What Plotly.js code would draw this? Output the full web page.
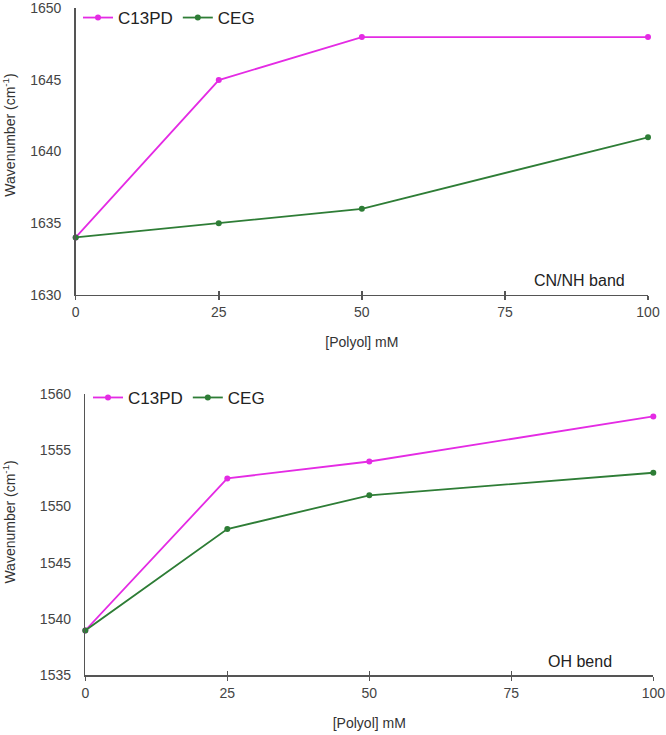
<!DOCTYPE html>
<html>
<head>
<meta charset="utf-8">
<script src="https://cdn.plot.ly/plotly-3.0.1.min.js"></script>
<style>html,body{margin:0;padding:0;background:#fff;}#chart{width:666px;height:735px;}</style>
</head>
<body>
<div id="chart"></div>
<script>
// Data
const polyol = [0, 25, 50, 100];
const seriesNames = ["C13PD", "CEG"];
const cnnhC13PD = [1634, 1645, 1648, 1648];
const cnnhCEG = [1634, 1635, 1636, 1641];
const ohC13PD = [1539, 1552.5, 1554, 1558];
const ohCEG = [1539, 1548, 1551, 1553];
const xTicks = [0, 25, 50, 75, 100];
const yTicksTop = [1630, 1635, 1640, 1645, 1650];
const yTicksBottom = [1535, 1540, 1545, 1550, 1555, 1560];
const panelLabels = ["CN/NH band", "OH bend"];
const xTitle = "[Polyol] mM";
const yTitle = "Wavenumber (cm<sup>-1</sup>)";

const MAG = "#e42be4";
const GRN = "#2e7d36";
const FONT = "Liberation Sans, Arial, sans-serif";

function tr(x, y, name, color, xa, ya, leg) {
  return {
    x: x, y: y, name: name, type: "scatter", mode: "lines+markers",
    line: {color: color, width: 1.8},
    marker: {color: color, size: 6},
    xaxis: xa, yaxis: ya, legend: leg, cliponaxis: false
  };
}

const data = [
  tr(polyol, cnnhC13PD, seriesNames[0], MAG, "x", "y", "legend"),
  tr(polyol, cnnhCEG, seriesNames[1], GRN, "x", "y", "legend"),
  tr(polyol, ohC13PD, seriesNames[0], MAG, "x2", "y2", "legend2"),
  tr(polyol, ohCEG, seriesNames[1], GRN, "x2", "y2", "legend2"),
  // invisible helpers so that overlay axes (inner tick halves) are drawn
  {x: [], y: [], xaxis: "x3", yaxis: "y", showlegend: false, type: "scatter"},
  {x: [], y: [], xaxis: "x4", yaxis: "y2", showlegend: false, type: "scatter"}
];

const axisCommon = {
  showgrid: false, zeroline: false, showline: true,
  linecolor: "#555", linewidth: 1.5,
  tickfont: {family: FONT, size: 14, color: "#444"},
  ticklabeloverflow: "allow"
};

function xax(domain, anchor) {
  return Object.assign({}, axisCommon, {
    domain: domain, anchor: anchor, range: [0, 100], tickvals: xTicks,
    ticks: "outside", ticklen: 4, tickwidth: 1.5, tickcolor: "#555",
    title: {text: xTitle, font: {family: FONT, size: 14, color: "#333"}, standoff: 18}
  });
}
function xover(over, anchor, domain) {
  return {
    overlaying: over, anchor: anchor, domain: domain, range: [0, 100], tickvals: xTicks,
    ticks: "inside", ticklen: 4, tickwidth: 1.5, tickcolor: "#555",
    showticklabels: false, showline: false, showgrid: false, zeroline: false, side: "bottom"
  };
}
function yax(domain, anchor, range, tickvals) {
  return Object.assign({}, axisCommon, {
    domain: domain, anchor: anchor, range: range, tickvals: tickvals,
    ticks: "", ticklabelstandoff: 10
  });
}

const topX = [75.7/666, 648/666];
const topY = [1 - 293.5/735, 1 - 6.5/735];
const botX = [85.3/666, 653.3/666];
const botY = [1 - 675.3/735, 1 - 393/735];

const layout = {
  width: 666, height: 735,
  margin: {l: 0, r: 0, t: 0, b: 0},
  paper_bgcolor: "#fff", plot_bgcolor: "#fff",
  font: {family: FONT},
  xaxis: xax(topX, "y"),
  yaxis: yax(topY, "x", [1630, 1650], yTicksTop),
  xaxis2: xax(botX, "y2"),
  yaxis2: yax(botY, "x2", [1535, 1560], yTicksBottom),
  xaxis3: xover("x", "y", topX),
  xaxis4: xover("x2", "y2", botX),
  legend: {
    orientation: "h", x: 78/666, xanchor: "left", y: 1 - 16/735, yanchor: "middle",
    font: {family: FONT, size: 17, color: "#222"}, bgcolor: "rgba(0,0,0,0)"
  },
  legend2: {
    orientation: "h", x: 88/666, xanchor: "left", y: 1 - 397/735, yanchor: "middle",
    font: {family: FONT, size: 17, color: "#222"}, bgcolor: "rgba(0,0,0,0)"
  },
  annotations: [
    {text: panelLabels[0], xref: "paper", yref: "paper", x: 579/666, y: 1 - 279/735,
     showarrow: false, xanchor: "center", yanchor: "middle",
     font: {family: FONT, size: 16, color: "#222"}},
    {text: panelLabels[1], xref: "paper", yref: "paper", x: 580/666, y: 1 - 661/735,
     showarrow: false, xanchor: "center", yanchor: "middle",
     font: {family: FONT, size: 16, color: "#222"}},
    {text: yTitle, xref: "paper", yref: "paper", x: 9/666, y: 1 - 134/735, textangle: -90,
     showarrow: false, xanchor: "center", yanchor: "middle",
     font: {family: FONT, size: 14, color: "#333"}},
    {text: yTitle, xref: "paper", yref: "paper", x: 9/666, y: 1 - 522/735, textangle: -90,
     showarrow: false, xanchor: "center", yanchor: "middle",
     font: {family: FONT, size: 14, color: "#333"}}
  ]
};

Plotly.newPlot("chart", data, layout, {displayModeBar: false, staticPlot: true});
</script>
</body>
</html>
